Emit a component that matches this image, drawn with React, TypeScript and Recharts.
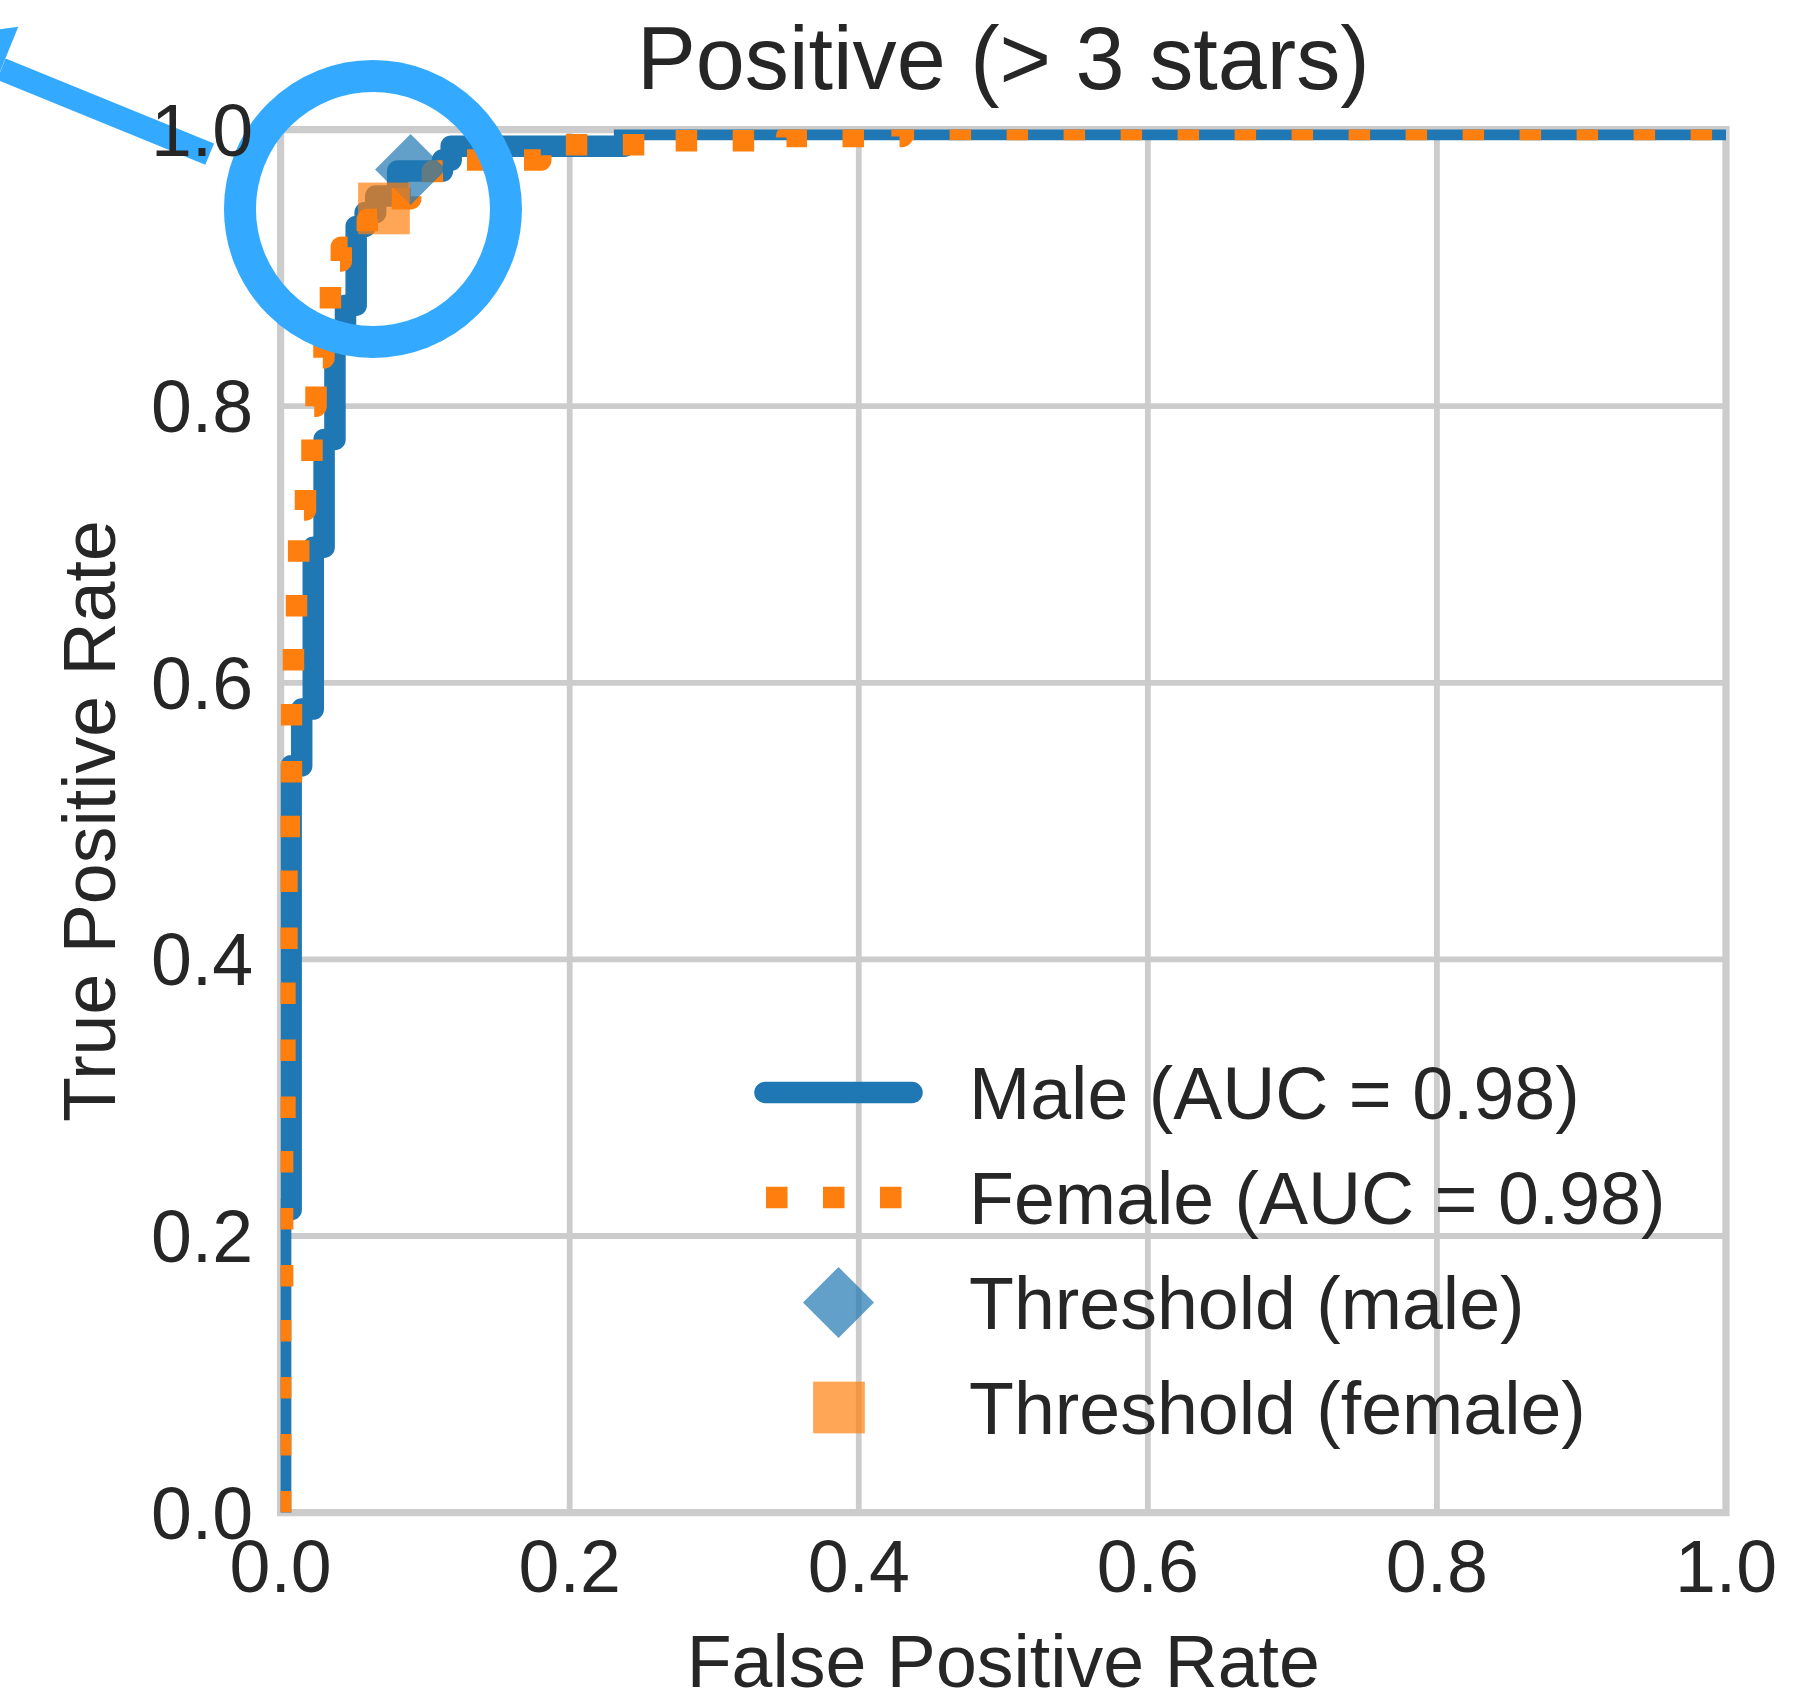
import React from 'react';
import {
  ComposedChart,
  Line,
  Scatter,
  XAxis,
  YAxis,
  CartesianGrid,
  ReferenceArea,
  ReferenceDot,
  Legend,
  Label,
} from 'recharts';

// ---------- data ----------
const maleFpr = [0, 0, 0.0073, 0.0073, 0.0146, 0.0146, 0.0226, 0.0226, 0.0301, 0.0301, 0.0376, 0.0376, 0.0449, 0.0449, 0.0523, 0.0523, 0.0585, 0.0585, 0.0658, 0.0658, 0.081, 0.081, 0.112, 0.112, 0.118, 0.118, 0.238, 0.238, 1.0];
const maleTpr = [0, 0.219, 0.219, 0.54, 0.54, 0.581, 0.581, 0.698, 0.698, 0.776, 0.776, 0.85, 0.85, 0.873, 0.873, 0.93, 0.93, 0.94, 0.94, 0.952, 0.952, 0.97, 0.97, 0.978, 0.978, 0.988, 0.988, 1.0, 1.0];

const femaleFpr = [0, 0, 0.0014, 0.0014, 0.003, 0.003, 0.0044, 0.0044, 0.006, 0.006, 0.0075, 0.0075, 0.0089, 0.0089, 0.011, 0.011, 0.0125, 0.0125, 0.0172, 0.0172, 0.0217, 0.0217, 0.0245, 0.0245, 0.03, 0.03, 0.0345, 0.0345, 0.042, 0.042, 0.05, 0.05, 0.06, 0.06, 0.0715, 0.0715, 0.09, 0.09, 0.105, 0.105, 0.12, 0.12, 0.18, 0.18, 0.27, 0.27, 0.35, 0.35, 0.43, 0.43, 1.0];
const femaleTpr = [0, 0.16, 0.16, 0.27, 0.27, 0.40, 0.40, 0.48, 0.48, 0.52, 0.52, 0.605, 0.605, 0.645, 0.645, 0.685, 0.685, 0.725, 0.725, 0.76, 0.76, 0.80, 0.80, 0.835, 0.835, 0.87, 0.87, 0.905, 0.905, 0.915, 0.915, 0.925, 0.925, 0.935, 0.935, 0.95, 0.95, 0.96, 0.96, 0.97, 0.97, 0.978, 0.978, 0.989, 0.989, 0.992, 0.992, 0.995, 0.995, 1.0, 1.0];

const thresholdMaleFpr = [0.0899];
const thresholdMaleTpr = [0.9711];
const thresholdFemaleFpr = [0.0715];
const thresholdFemaleTpr = [0.943];

const highlightFpr = 0.0639;
const highlightTpr = 0.9426;

const xTicks = [0, 0.2, 0.4, 0.6, 0.8, 1.0];
const yTicks = [0, 0.2, 0.4, 0.6, 0.8, 1.0];
const xTickLabels = ['0.0', '0.2', '0.4', '0.6', '0.8', '1.0'];
const yTickLabels = ['0.0', '0.2', '0.4', '0.6', '0.8', '1.0'];

const seriesNames = ['Male (AUC = 0.98)', 'Female (AUC = 0.98)', 'Threshold (male)', 'Threshold (female)'];
const titleText = 'Positive (> 3 stars)';
const xLabelText = 'False Positive Rate';
const yLabelText = 'True Positive Rate';

// ---------- built tables ----------
const maleData = maleFpr.map((x, i) => ({ x, y: maleTpr[i] }));
const femaleData = femaleFpr.map((x, i) => ({ x, y: femaleTpr[i] }));
const thrMaleData = thresholdMaleFpr.map((x, i) => ({ x, y: thresholdMaleTpr[i] }));
const thrFemaleData = thresholdFemaleFpr.map((x, i) => ({ x, y: thresholdFemaleTpr[i] }));

// ---------- styles ----------
const FONT = "'Liberation Sans', Arial, Helvetica, sans-serif";
const TEXT = '#262626';
const BLUE = '#1f77b4';
const ORANGE = '#ff7f0e';
const HL = '#33aaff';
const GRID = '#cccccc';
const FS = 73.5;
const LW = 21.5;
const DASH = '21.5 35.5';

const CHART_W = 1808;
const CHART_H = 1692;
const MARGIN = { top: 129.6, right: 82, bottom: 0, left: 0 };
const Y_AXIS_W = 280.6;
const X_AXIS_H = 179.4;

const XTick = (props: any) => {
  const { x, y, payload } = props;
  const idx = xTicks.indexOf(payload.value);
  return (
    <text x={x} y={y + 79.1} textAnchor="middle" fontSize={FS} fontFamily={FONT} fill={TEXT}>
      {idx >= 0 ? xTickLabels[idx] : String(payload.value)}
    </text>
  );
};

const YTick = (props: any) => {
  const { x, y, payload } = props;
  const idx = yTicks.indexOf(payload.value);
  return (
    <text x={x - 27.5} y={y + 26} textAnchor="end" fontSize={FS} fontFamily={FONT} fill={TEXT}>
      {idx >= 0 ? yTickLabels[idx] : String(payload.value)}
    </text>
  );
};

const XLabel = (props: any) => {
  const vb = props.viewBox || { x: 280.6, y: 1512.6, width: 1445.4, height: 179.4 };
  return (
    <text x={vb.x + vb.width / 2} y={vb.y + 174.6} textAnchor="middle" fontSize={FS} fontFamily={FONT} fill={TEXT}>
      {xLabelText}
    </text>
  );
};

const YLabel = (props: any) => {
  const vb = props.viewBox || { x: 0, y: 129.6, width: 280.6, height: 1383 };
  const cx = vb.x + 115.3;
  const cy = vb.y + vb.height / 2;
  return (
    <text x={cx} y={cy} transform={`rotate(-90, ${cx}, ${cy})`} textAnchor="middle" fontSize={FS} fontFamily={FONT} fill={TEXT}>
      {yLabelText}
    </text>
  );
};

const DiamondShape = (props: any) => {
  const { cx, cy } = props;
  const h = 35.5;
  return (
    <polygon
      points={`${cx},${cy - h} ${cx + h},${cy} ${cx},${cy + h} ${cx - h},${cy}`}
      fill={BLUE}
      fillOpacity={0.7}
    />
  );
};

const SquareShape = (props: any) => {
  const { cx, cy } = props;
  const s = 51.7;
  return <rect x={cx - s / 2} y={cy - s / 2} width={s} height={s} fill={ORANGE} fillOpacity={0.7} />;
};

const HighlightShape = (props: any) => {
  const { cx, cy } = props;
  return (
    <g>
      <circle cx={cx} cy={cy} r={133} fill="none" stroke={HL} strokeWidth={32} />
      <line x1={cx - 163.3} y1={cy - 54.8} x2={cx - 371.7} y2={cy - 139.9} stroke={HL} strokeWidth={23} />
      <polygon
        points={`${cx - 444.5},${cy - 169.6} ${cx - 354.7},${cy - 182.3} ${cx - 389},${cy - 97.6}`}
        fill={HL}
      />
    </g>
  );
};

const LegendContent = () => {
  const rows = [52.5, 157.5, 262.5, 367.5];
  return (
    <svg width={1000} height={440} style={{ display: 'block', overflow: 'visible' }}>
      <line x1={25} y1={rows[0]} x2={172} y2={rows[0]} stroke={BLUE} strokeWidth={LW} strokeLinecap="round" />
      <line x1={26} y1={rows[1]} x2={172} y2={rows[1]} stroke={ORANGE} strokeWidth={LW} strokeDasharray={DASH} />
      <polygon
        points={`98.5,${rows[2] - 35.5} 134,${rows[2]} 98.5,${rows[2] + 35.5} 63,${rows[2]}`}
        fill={BLUE}
        fillOpacity={0.7}
      />
      <rect x={99 - 25.85} y={rows[3] - 25.85} width={51.7} height={51.7} fill={ORANGE} fillOpacity={0.7} />
      {seriesNames.map((n, i) => (
        <text key={n} x={229} y={rows[i] + 26} fontSize={FS} fontFamily={FONT} fill={TEXT}>
          {n}
        </text>
      ))}
    </svg>
  );
};

export default function App() {
  const plotLeft = MARGIN.left + Y_AXIS_W;
  const plotRight = CHART_W - MARGIN.right;
  const titleX = (plotLeft + plotRight) / 2;
  const titleBaseline = MARGIN.top - 41;
  return (
    <div style={{ position: 'absolute', left: 0, top: 0, width: CHART_W, height: CHART_H, background: '#ffffff' }}>
      <ComposedChart width={CHART_W} height={CHART_H} margin={MARGIN}>
        <CartesianGrid stroke={GRID} strokeWidth={5.8} />
        <XAxis
          type="number"
          dataKey="x"
          domain={[0, 1]}
          ticks={xTicks}
          allowDataOverflow
          axisLine={false}
          tickLine={false}
          tickSize={0}
          tickMargin={0}
          height={X_AXIS_H}
          tick={<XTick />}
          interval={0}
        >
          <Label content={<XLabel />} />
        </XAxis>
        <YAxis
          type="number"
          dataKey="y"
          domain={[0, 1]}
          ticks={yTicks}
          allowDataOverflow
          axisLine={false}
          tickLine={false}
          tickSize={0}
          tickMargin={0}
          width={Y_AXIS_W}
          tick={<YTick />}
          interval={0}
        >
          <Label content={<YLabel />} />
        </YAxis>
        <Line
          data={maleData}
          dataKey="y"
          type="linear"
          stroke={BLUE}
          strokeWidth={LW}
          strokeLinecap="round"
          strokeLinejoin="round"
          dot={false}
          activeDot={false}
          isAnimationActive={false}
          name={seriesNames[0]}
        />
        <Line
          data={femaleData}
          dataKey="y"
          type="linear"
          stroke={ORANGE}
          strokeWidth={LW}
          strokeDasharray={DASH}
          strokeLinejoin="round"
          dot={false}
          activeDot={false}
          isAnimationActive={false}
          name={seriesNames[1]}
        />
        <Scatter data={thrMaleData} dataKey="y" shape={<DiamondShape />} isAnimationActive={false} name={seriesNames[2]} />
        <Scatter data={thrFemaleData} dataKey="y" shape={<SquareShape />} isAnimationActive={false} name={seriesNames[3]} />
        <ReferenceArea
          x1={0}
          x2={1}
          y1={0}
          y2={1}
          fill="none"
          fillOpacity={0}
          stroke={GRID}
          strokeWidth={7.25}
          ifOverflow="visible"
        />
        <ReferenceDot
          x={highlightFpr}
          y={highlightTpr}
          r={1}
          ifOverflow="visible"
          shape={<HighlightShape />}
        />
        <Legend
          layout="vertical"
          align="center"
          verticalAlign="middle"
          wrapperStyle={{ position: 'absolute', left: 740, top: 1040, width: 1000, height: 440 }}
          content={<LegendContent />}
        />
      </ComposedChart>
      <svg
        width={CHART_W}
        height={120}
        style={{ position: 'absolute', left: 0, top: 0, pointerEvents: 'none', overflow: 'visible' }}
      >
        <text x={titleX} y={titleBaseline} textAnchor="middle" fontSize={88.2} fontFamily={FONT} fill={TEXT}>
          {titleText}
        </text>
      </svg>
    </div>
  );
}
